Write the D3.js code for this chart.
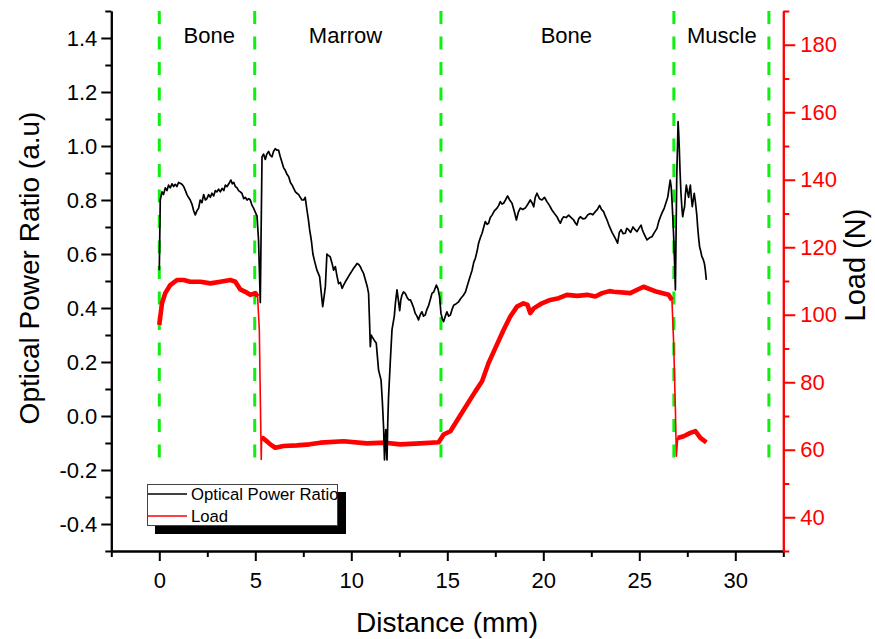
<!DOCTYPE html>
<html>
<head>
<meta charset="utf-8">
<script src="https://cdn.jsdelivr.net/npm/d3@7"></script>
<style>
html,body{margin:0;padding:0;background:#fff;}
svg{display:block;font-family:"Liberation Sans",Arial,sans-serif;}
</style>
</head>
<body>
<svg id="chart" width="875" height="639"></svg>
<script>
// ---------- data ----------
const opticalDistance = [0.00,0.05,0.14,0.22,0.31,0.40,0.48,0.57,0.66,0.75,0.83,0.92,1.00,1.09,1.18,1.27,1.36,1.44,1.52,1.61,1.70,1.79,1.875,1.96,2.05,2.13,2.22,2.31,2.40,2.48,2.57,2.66,2.74,2.83,2.92,3.00,3.09,3.18,3.27,3.36,3.44,3.53,3.62,3.73,3.80,3.88,3.96,4.05,4.13,4.22,4.30,4.40,4.48,4.57,4.66,4.74,4.83,4.91,5.00,5.09,5.17,5.26,5.35,5.43,5.52,5.60,5.69,5.78,5.87,5.95,6.04,6.12,6.21,6.30,6.39,6.47,6.56,6.65,6.74,6.83,6.92,7.00,7.09,7.17,7.26,7.34,7.43,7.52,7.60,7.69,7.76,7.83,7.92,8.00,8.10,8.21,8.35,8.43,8.51,8.58,8.65,8.73,8.80,8.90,9.00,9.08,9.17,9.25,9.34,9.43,9.52,9.60,9.69,9.80,9.95,10.10,10.20,10.30,10.40,10.47,10.55,10.64,10.75,10.83,10.90,10.95,10.99,11.04,11.08,11.20,11.30,11.36,11.42,11.55,11.62,11.68,11.73,11.77,11.80,11.83,11.86,11.90,11.94,12.03,12.12,12.24,12.30,12.38,12.45,12.52,12.58,12.64,12.72,12.81,12.90,12.99,13.08,13.16,13.25,13.33,13.42,13.50,13.59,13.68,13.76,13.85,13.94,14.03,14.11,14.20,14.30,14.43,14.52,14.60,14.67,14.74,14.81,14.90,14.98,15.07,15.16,15.25,15.33,15.45,15.59,15.70,15.85,15.95,16.03,16.16,16.29,16.38,16.46,16.55,16.63,16.72,16.81,16.90,16.98,17.07,17.15,17.24,17.33,17.45,17.59,17.68,17.76,17.85,17.93,18.03,18.14,18.25,18.37,18.48,18.60,18.70,18.80,18.93,19.06,19.20,19.32,19.41,19.50,19.58,19.67,19.80,19.93,20.06,20.19,20.32,20.45,20.58,20.71,20.80,20.89,20.98,21.06,21.19,21.32,21.45,21.58,21.67,21.75,21.84,21.93,22.06,22.19,22.32,22.45,22.58,22.71,22.82,22.93,23.03,23.14,23.23,23.32,23.40,23.49,23.58,23.66,23.77,23.87,23.96,24.05,24.16,24.27,24.35,24.44,24.55,24.67,24.78,24.88,24.98,25.09,25.16,25.23,25.31,25.40,25.53,25.66,25.79,25.92,26.01,26.10,26.20,26.30,26.39,26.48,26.55,26.61,26.66,26.70,26.75,26.79,26.84,26.88,26.92,26.95,26.99,27.02,27.05,27.08,27.12,27.17,27.22,27.26,27.31,27.36,27.40,27.45,27.51,27.57,27.62,27.66,27.71,27.76,27.81,27.86,27.91,27.95,28.00,28.04,28.09,28.14,28.20,28.26,28.33,28.39,28.44,28.49];
const opticalRatio = [0.54,0.80,0.83,0.82,0.845,0.835,0.855,0.845,0.86,0.85,0.858,0.85,0.865,0.862,0.858,0.85,0.835,0.82,0.81,0.80,0.785,0.76,0.745,0.76,0.77,0.80,0.79,0.82,0.80,0.805,0.82,0.81,0.825,0.815,0.835,0.83,0.84,0.83,0.843,0.835,0.855,0.85,0.86,0.874,0.86,0.865,0.85,0.845,0.835,0.83,0.825,0.805,0.81,0.80,0.805,0.80,0.78,0.77,0.755,0.74,0.65,0.42,0.96,0.97,0.95,0.97,0.98,0.965,0.96,0.98,0.99,0.985,0.985,0.96,0.94,0.92,0.91,0.895,0.886,0.865,0.855,0.843,0.83,0.825,0.82,0.81,0.80,0.80,0.81,0.763,0.73,0.69,0.65,0.60,0.57,0.54,0.516,0.46,0.405,0.44,0.48,0.60,0.595,0.59,0.565,0.54,0.553,0.52,0.49,0.495,0.473,0.485,0.497,0.51,0.528,0.545,0.555,0.565,0.56,0.553,0.54,0.528,0.50,0.48,0.454,0.35,0.257,0.30,0.294,0.28,0.27,0.22,0.17,0.133,0.05,-0.04,-0.163,-0.08,-0.05,-0.12,-0.163,-0.02,0.07,0.20,0.32,0.37,0.42,0.467,0.43,0.39,0.43,0.448,0.46,0.454,0.44,0.43,0.43,0.417,0.40,0.38,0.37,0.356,0.375,0.386,0.37,0.374,0.395,0.41,0.43,0.454,0.46,0.485,0.47,0.44,0.38,0.36,0.35,0.37,0.386,0.37,0.374,0.395,0.41,0.415,0.423,0.435,0.448,0.46,0.48,0.51,0.54,0.57,0.584,0.61,0.64,0.66,0.677,0.70,0.72,0.71,0.714,0.735,0.744,0.76,0.77,0.78,0.794,0.785,0.788,0.80,0.815,0.80,0.788,0.76,0.726,0.755,0.77,0.765,0.77,0.785,0.80,0.79,0.775,0.81,0.825,0.805,0.80,0.81,0.794,0.78,0.763,0.75,0.738,0.725,0.714,0.73,0.738,0.735,0.744,0.735,0.726,0.715,0.707,0.73,0.738,0.73,0.732,0.745,0.75,0.745,0.757,0.765,0.78,0.765,0.757,0.74,0.726,0.71,0.695,0.68,0.67,0.655,0.64,0.68,0.69,0.675,0.677,0.695,0.69,0.68,0.70,0.69,0.683,0.695,0.707,0.69,0.677,0.665,0.652,0.66,0.664,0.68,0.695,0.72,0.738,0.755,0.77,0.79,0.81,0.845,0.874,0.85,0.80,0.73,0.664,0.56,0.467,0.70,0.886,1.00,1.09,1.05,0.998,0.91,0.825,0.77,0.738,0.76,0.775,0.82,0.855,0.83,0.81,0.84,0.855,0.81,0.775,0.80,0.825,0.80,0.775,0.74,0.70,0.66,0.627,0.61,0.59,0.58,0.565,0.54,0.504];

const loadDistance = [0.00,0.02,0.14,0.31,0.57,0.92,1.27,1.61,2.14,2.66,3.18,3.70,3.96,4.22,4.48,4.74,5.00,5.12,5.21,5.26,5.31,5.33,5.38,5.61,5.78,6.04,6.47,7.17,7.83,8.39,9.60,10.82,11.77,12.55,13.59,14.55,14.81,15.16,15.59,16.03,16.46,16.81,17.15,17.50,17.93,18.28,18.63,18.97,19.18,19.32,19.50,19.93,20.36,20.80,21.23,21.76,22.28,22.71,23.06,23.45,23.66,24.53,25.22,25.92,26.53,26.70,26.79,26.88,26.93,27.00,27.31,27.66,27.92,28.18,28.49];
const loadValue = [97.0,98.0,103.4,106.4,108.8,110.3,110.3,109.8,109.8,109.3,109.8,110.3,109.8,107.5,106.8,105.9,106.4,105.4,95.5,75.8,57.1,63.5,63.5,62.5,61.6,60.6,61.1,61.3,61.6,62.1,62.5,61.9,62.1,61.6,61.9,62.2,64.5,65.5,69.4,73.4,77.3,80.3,85.7,90.1,95.5,99.5,102.4,103.4,102.9,100.5,101.9,103.4,104.4,104.9,105.9,105.6,105.9,105.4,106.4,107.0,106.8,106.4,108.3,106.8,105.9,104.4,91.6,71.9,58.1,63.5,64.0,65.0,65.5,63.5,62.2];

const boundaryPositions = [0, 4.97, 14.67, 26.8, 31.75];
const regionLabels = ["Bone", "Marrow", "Bone", "Muscle"];
const regionLabelX = [2.6, 9.7, 21.2, 29.3];

const xMajorTicks = [0, 5, 10, 15, 20, 25, 30];
const xMinorTicks = [-2.5, 2.5, 7.5, 12.5, 17.5, 22.5, 27.5, 32.5];
const leftMajorTicks = [-0.4, -0.2, 0.0, 0.2, 0.4, 0.6, 0.8, 1.0, 1.2, 1.4];
const leftMinorTicks = [-0.5, -0.3, -0.1, 0.1, 0.3, 0.5, 0.7, 0.9, 1.1, 1.3, 1.5];
const rightMajorTicks = [40, 60, 80, 100, 120, 140, 160, 180];
const rightMinorTicks = [30, 50, 70, 90, 110, 130, 150, 170, 190];

const seriesNames = ["Optical Power Ratio", "Load"];
const seriesColors = ["#000000", "#ff0000"];

// ---------- scales ----------
const svg = d3.select("#chart");
const x = d3.scaleLinear().domain([-2.5, 32.5]).range([111.3, 783.3]);
const yL = d3.scaleLinear().domain([-0.5, 1.5]).range([551, 11]);
const yR = d3.scaleLinear().domain([30, 190]).range([551, 11]);

const fmtL = d => d.toFixed(1).replace("\u2212", "-");

// ---------- boundaries ----------
svg.append("g").selectAll("line").data(boundaryPositions).join("line")
  .attr("x1", d => x(d)).attr("x2", d => x(d))
  .attr("y1", yL(1.5)).attr("y2", yL(-0.175))
  .attr("stroke", "#11ee11").attr("stroke-width", 3)
  .attr("stroke-dasharray", "13,12.5");

// ---------- region labels ----------
svg.append("g").selectAll("text").data(regionLabels).join("text")
  .attr("x", (d, i) => x(regionLabelX[i])).attr("y", 43)
  .attr("text-anchor", "middle").attr("font-size", 22).attr("fill", "#000")
  .text(d => d);

// ---------- lines ----------
const opticalData = opticalDistance.map((d, i) => [d, opticalRatio[i]]);
const loadData = loadDistance.map((d, i) => [d, loadValue[i]]);
const inDrop = d => (d[0] > 5.15 && d[0] < 5.32) || (d[0] > 26.72 && d[0] < 26.95);

// thin trace of the load (covers the steep drops)
svg.append("path").datum(loadData)
  .attr("fill", "none").attr("stroke", seriesColors[1]).attr("stroke-width", 1.6)
  .attr("stroke-linejoin", "round")
  .attr("d", d3.line().x(d => x(d[0])).y(d => yR(d[1])));
// noisy band of the load on the plateaus
svg.append("path").datum(loadData)
  .attr("fill", "none").attr("stroke", seriesColors[1]).attr("stroke-width", 4.6)
  .attr("stroke-linejoin", "round")
  .attr("d", d3.line().defined(d => !inDrop(d)).x(d => x(d[0])).y(d => yR(d[1])));

svg.append("path").datum(opticalData)
  .attr("fill", "none").attr("stroke", seriesColors[0]).attr("stroke-width", 1.7)
  .attr("stroke-linejoin", "round")
  .attr("d", d3.line().x(d => x(d[0])).y(d => yL(d[1])));

// ---------- axes ----------
function styleAxis(g, color) {
  g.select(".domain").attr("stroke", color).attr("stroke-width", 2);
  g.selectAll(".tick line").attr("stroke", color).attr("stroke-width", 2);
  g.selectAll(".tick text").attr("fill", color).attr("font-size", 22)
    .attr("font-family", "Liberation Sans, Arial, sans-serif");
}

// bottom
const gxMinor = svg.append("g").attr("transform", `translate(0,${yL(-0.5)})`)
  .call(d3.axisBottom(x).tickValues(xMinorTicks).tickSize(6).tickSizeOuter(0).tickFormat(""));
styleAxis(gxMinor, "#000");
const gx = svg.append("g").attr("transform", `translate(0,${yL(-0.5)})`)
  .call(d3.axisBottom(x).tickValues(xMajorTicks).tickSize(10).tickPadding(11).tickSizeOuter(0).tickFormat(d3.format("d")));
styleAxis(gx, "#000");

// left
const gyMinor = svg.append("g").attr("transform", `translate(${x(-2.5)},0)`)
  .call(d3.axisLeft(yL).tickValues(leftMinorTicks).tickSize(6).tickSizeOuter(0).tickFormat(""));
styleAxis(gyMinor, "#000");
const gy = svg.append("g").attr("transform", `translate(${x(-2.5)},0)`)
  .call(d3.axisLeft(yL).tickValues(leftMajorTicks).tickSize(10).tickPadding(4).tickSizeOuter(0).tickFormat(fmtL));
styleAxis(gy, "#000");

// right
const grMinor = svg.append("g").attr("transform", `translate(${x(32.5)},0)`)
  .call(d3.axisRight(yR).tickValues(rightMinorTicks).tickSize(6).tickSizeOuter(0).tickFormat(""));
styleAxis(grMinor, "#ff0000");
const gr = svg.append("g").attr("transform", `translate(${x(32.5)},0)`)
  .call(d3.axisRight(yR).tickValues(rightMajorTicks).tickSize(12).tickPadding(5).tickSizeOuter(0).tickFormat(d3.format("d")));
styleAxis(gr, "#ff0000");

// ---------- axis titles ----------
svg.append("text").attr("x", 447).attr("y", 632).attr("text-anchor", "middle")
  .attr("font-size", 28).text("Distance (mm)");
svg.append("text").attr("transform", "translate(39,268) rotate(-90)").attr("text-anchor", "middle")
  .attr("font-size", 28).text("Optical Power Ratio (a.u)");
svg.append("text").attr("transform", "translate(865,265) rotate(-90)").attr("text-anchor", "middle")
  .attr("font-size", 29).text("Load (N)");

// ---------- legend ----------
const lg = svg.append("g");
lg.append("rect").attr("x", 155).attr("y", 492).attr("width", 191).attr("height", 42).attr("fill", "#000");
lg.append("rect").attr("x", 147.5).attr("y", 484.5).attr("width", 190).attr("height", 41)
  .attr("fill", "#fff").attr("stroke", "#444").attr("stroke-width", 1);
seriesNames.forEach((name, i) => {
  const yy = 494 + i * 22;
  lg.append("line").attr("x1", 148).attr("x2", 187).attr("y1", yy).attr("y2", yy)
    .attr("stroke", seriesColors[i]).attr("stroke-width", 1.5);
  lg.append("text").attr("x", 191).attr("y", yy + 6).attr("font-size", 16.7).attr("fill", "#000").text(name);
});
</script>
</body>
</html>
